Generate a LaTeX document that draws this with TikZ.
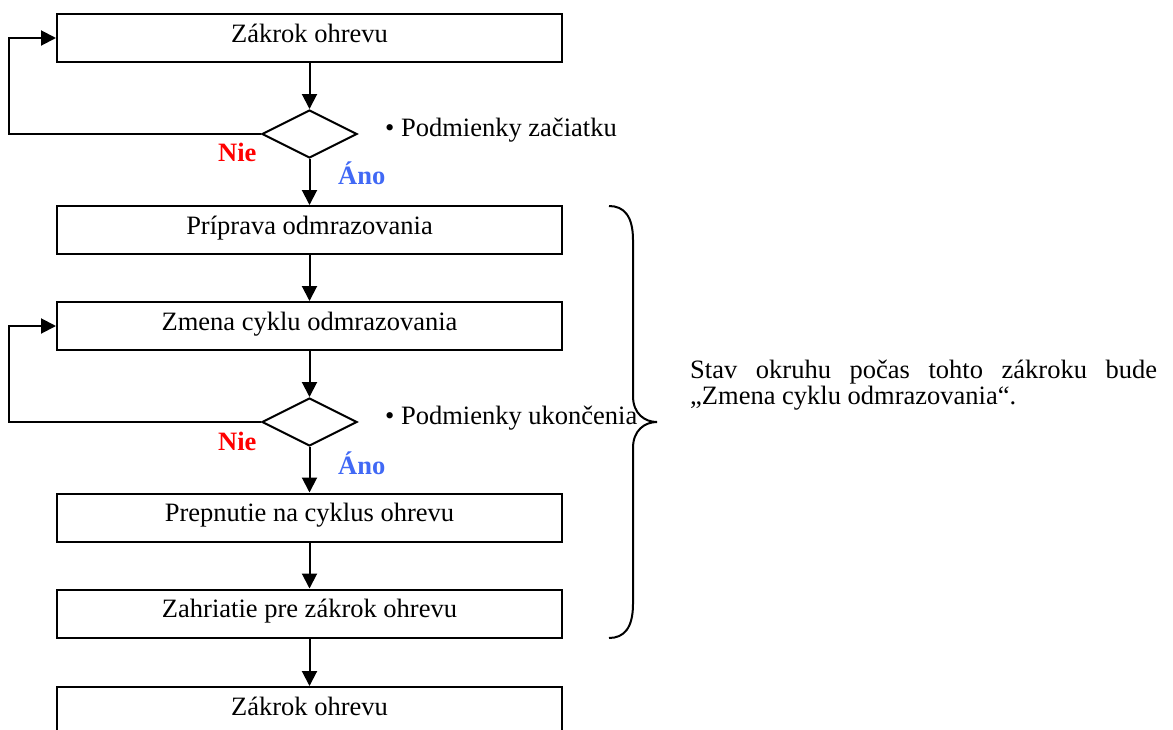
\documentclass[tikz,border=0pt]{standalone}
\usepackage{fontspec}
\setmainfont{Liberation Serif}
\usetikzlibrary{shapes.geometric,arrows.meta}
\definecolor{niered}{RGB}{255,0,0}
\definecolor{anoblue}{RGB}{65,105,245}
\begin{document}
\begin{tikzpicture}[x=1pt,y=-1pt,
  every node/.style={font=\fontsize{26.5}{30}\selectfont},
  box/.style={draw, line width=2pt, minimum width=505pt, minimum height=48pt, inner sep=0pt, text height=14pt, text depth=6pt},
  dia/.style={draw, diamond, line width=2pt, minimum width=95pt, minimum height=48pt, inner sep=0pt},
  arr/.style={line width=2pt, -{Triangle[length=15pt,width=15pt]}},
  lbl/.style={anchor=base west, inner sep=0pt},
  nielbl/.style={lbl, text=niered, font=\fontsize{26.5}{30}\selectfont\bfseries},
  anolbl/.style={lbl, text=anoblue, font=\fontsize{26.5}{30}\selectfont\bfseries},
  brace/.style={line width=2pt}]
\clip (0,0) rectangle (1173,729);
% boxes
\node[box] (b1) at (309.5,38) {Zákrok ohrevu};
\node[dia] (d1) at (309.5,134) {};
\node[box] (b2) at (309.5,230) {Príprava odmrazovania};
\node[box] (b3) at (309.5,326) {Zmena cyklu odmrazovania};
\node[dia] (d2) at (309.5,422) {};
\node[box] (b4) at (309.5,517.5) {Prepnutie na cyklus ohrevu};
\node[box] (b5) at (309.5,613.5) {Zahriatie pre zákrok ohrevu};
\node[box] (b6) at (309.5,711) {Zákrok ohrevu};
\coordinate (lx) at (9,0);
% arrows
\draw[arr] (b1) -- (d1);
\draw[arr] (d1) -- (b2);
\draw[arr] (b2) -- (b3);
\draw[arr] (b3) -- (d2);
\draw[arr] (d2) -- (b4);
\draw[arr] (b4) -- (b5);
\draw[arr] (b5) -- (b6);
\draw[arr] (d1.west) -- (d1.west -| lx) |- (b1.west);
\draw[arr] (d2.west) -- (d2.west -| lx) |- (b3.west);
% labels
\node[nielbl] (n1) at (218,161) {Nie};
\node[nielbl] (n2) at (218,450) {Nie};
\node[anolbl] (a1) at (338,184) {Áno};
\node[anolbl] (a2) at (338,474) {Áno};
\node[lbl] (p1) at (385,136) {• Podmienky začiatku};
\node[lbl] (p2) at (385,424) {• Podmienky ukončenia};
% brace
\draw[brace] (609,206) .. controls (624,206) and (633,216) .. (633,240) -- (633,396) .. controls (633,414) and (645,422) .. (657,422) .. controls (645,422) and (633,430) .. (633,448) -- (633,604) .. controls (633,628) and (624,638) .. (609,638);
% note
\node[lbl] (t1) at (690,378) {\makebox[467pt][s]{Stav okruhu počas tohto zákroku bude}};
\node[lbl] (t2) at (690,404) {„Zmena cyklu odmrazovania“.};
\end{tikzpicture}
\end{document}
